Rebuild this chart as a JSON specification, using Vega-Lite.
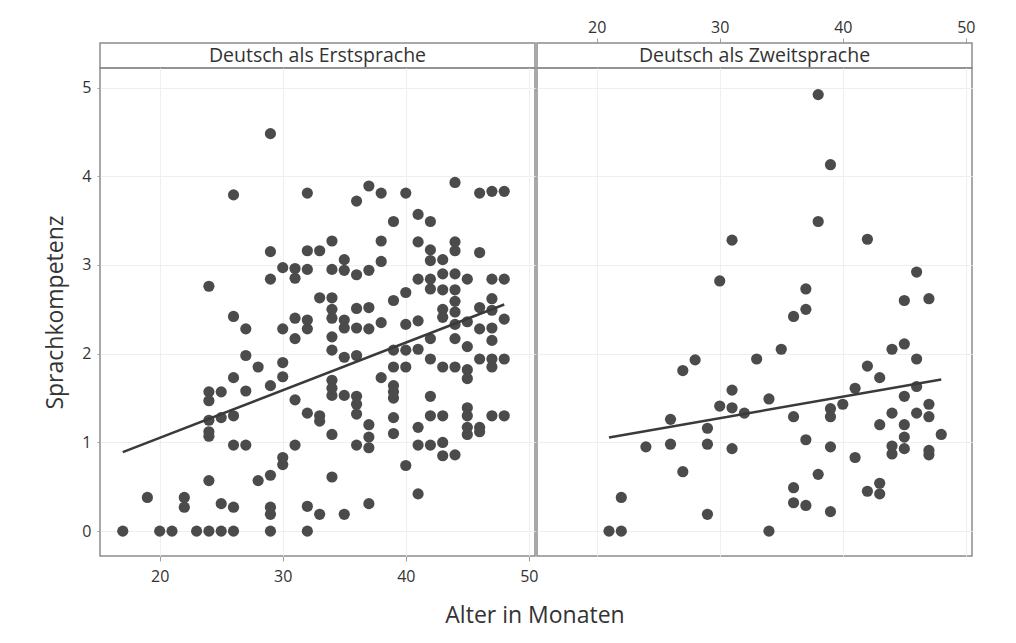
{
  "$schema": "https://vega.github.io/schema/vega-lite/v6.json",
  "padding": {"left": 44, "top": 18, "right": 40, "bottom": 16},
  "background": "white",
  "datasets": {
    "erst": [
      {"alter":17,"kompetenz":0},
      {"alter":19,"kompetenz":0.38},
      {"alter":20,"kompetenz":0},
      {"alter":21,"kompetenz":0},
      {"alter":22,"kompetenz":0.38},{"alter":22,"kompetenz":0.27},
      {"alter":23,"kompetenz":0},
      {"alter":24,"kompetenz":0},{"alter":24,"kompetenz":0.57},{"alter":24,"kompetenz":1.07},{"alter":24,"kompetenz":1.12},{"alter":24,"kompetenz":1.25},{"alter":24,"kompetenz":1.47},{"alter":24,"kompetenz":1.57},{"alter":24,"kompetenz":2.76},
      {"alter":25,"kompetenz":0},{"alter":25,"kompetenz":0.31},{"alter":25,"kompetenz":1.28},{"alter":25,"kompetenz":1.57},
      {"alter":26,"kompetenz":0},{"alter":26,"kompetenz":0.27},{"alter":26,"kompetenz":0.97},{"alter":26,"kompetenz":1.30},{"alter":26,"kompetenz":1.73},{"alter":26,"kompetenz":2.42},{"alter":26,"kompetenz":3.79},
      {"alter":27,"kompetenz":0.97},{"alter":27,"kompetenz":1.58},{"alter":27,"kompetenz":1.98},{"alter":27,"kompetenz":2.28},
      {"alter":28,"kompetenz":0.57},{"alter":28,"kompetenz":1.85},
      {"alter":29,"kompetenz":0},{"alter":29,"kompetenz":0.19},{"alter":29,"kompetenz":0.27},{"alter":29,"kompetenz":0.63},{"alter":29,"kompetenz":1.64},{"alter":29,"kompetenz":2.84},{"alter":29,"kompetenz":3.15},{"alter":29,"kompetenz":4.48},
      {"alter":30,"kompetenz":0.75},{"alter":30,"kompetenz":0.83},{"alter":30,"kompetenz":1.74},{"alter":30,"kompetenz":1.90},{"alter":30,"kompetenz":2.28},{"alter":30,"kompetenz":2.97},
      {"alter":31,"kompetenz":0.97},{"alter":31,"kompetenz":1.48},{"alter":31,"kompetenz":2.17},{"alter":31,"kompetenz":2.40},{"alter":31,"kompetenz":2.85},{"alter":31,"kompetenz":2.96},
      {"alter":32,"kompetenz":0},{"alter":32,"kompetenz":0.28},{"alter":32,"kompetenz":1.33},{"alter":32,"kompetenz":2.28},{"alter":32,"kompetenz":2.38},{"alter":32,"kompetenz":2.95},{"alter":32,"kompetenz":3.16},{"alter":32,"kompetenz":3.81},
      {"alter":33,"kompetenz":0.19},{"alter":33,"kompetenz":1.30},{"alter":33,"kompetenz":1.24},{"alter":33,"kompetenz":2.63},{"alter":33,"kompetenz":3.16},
      {"alter":34,"kompetenz":0.61},{"alter":34,"kompetenz":1.09},{"alter":34,"kompetenz":1.53},{"alter":34,"kompetenz":1.61},{"alter":34,"kompetenz":1.70},{"alter":34,"kompetenz":2.04},{"alter":34,"kompetenz":2.19},{"alter":34,"kompetenz":2.40},{"alter":34,"kompetenz":2.50},{"alter":34,"kompetenz":2.63},{"alter":34,"kompetenz":2.95},{"alter":34,"kompetenz":3.27},
      {"alter":35,"kompetenz":0.19},{"alter":35,"kompetenz":1.53},{"alter":35,"kompetenz":1.96},{"alter":35,"kompetenz":2.29},{"alter":35,"kompetenz":2.38},{"alter":35,"kompetenz":2.94},{"alter":35,"kompetenz":3.06},
      {"alter":36,"kompetenz":0.97},{"alter":36,"kompetenz":1.32},{"alter":36,"kompetenz":1.43},{"alter":36,"kompetenz":1.52},{"alter":36,"kompetenz":1.98},{"alter":36,"kompetenz":2.29},{"alter":36,"kompetenz":2.51},{"alter":36,"kompetenz":2.89},{"alter":36,"kompetenz":3.72},
      {"alter":37,"kompetenz":0.31},{"alter":37,"kompetenz":0.94},{"alter":37,"kompetenz":1.06},{"alter":37,"kompetenz":1.20},{"alter":37,"kompetenz":2.28},{"alter":37,"kompetenz":2.52},{"alter":37,"kompetenz":2.94},{"alter":37,"kompetenz":3.89},
      {"alter":38,"kompetenz":1.73},{"alter":38,"kompetenz":2.35},{"alter":38,"kompetenz":3.04},{"alter":38,"kompetenz":3.27},{"alter":38,"kompetenz":3.81},
      {"alter":39,"kompetenz":1.10},{"alter":39,"kompetenz":1.28},{"alter":39,"kompetenz":1.50},{"alter":39,"kompetenz":1.57},{"alter":39,"kompetenz":1.64},{"alter":39,"kompetenz":1.85},{"alter":39,"kompetenz":2.04},{"alter":39,"kompetenz":2.60},{"alter":39,"kompetenz":3.49},
      {"alter":40,"kompetenz":0.74},{"alter":40,"kompetenz":1.85},{"alter":40,"kompetenz":2.04},{"alter":40,"kompetenz":2.33},{"alter":40,"kompetenz":2.69},{"alter":40,"kompetenz":3.81},
      {"alter":41,"kompetenz":0.42},{"alter":41,"kompetenz":0.97},{"alter":41,"kompetenz":1.17},{"alter":41,"kompetenz":2.05},{"alter":41,"kompetenz":2.37},{"alter":41,"kompetenz":2.84},{"alter":41,"kompetenz":3.26},{"alter":41,"kompetenz":3.57},
      {"alter":42,"kompetenz":0.97},{"alter":42,"kompetenz":1.30},{"alter":42,"kompetenz":1.52},{"alter":42,"kompetenz":1.94},{"alter":42,"kompetenz":2.17},{"alter":42,"kompetenz":2.73},{"alter":42,"kompetenz":2.84},{"alter":42,"kompetenz":3.05},{"alter":42,"kompetenz":3.17},{"alter":42,"kompetenz":3.49},
      {"alter":43,"kompetenz":0.85},{"alter":43,"kompetenz":1.00},{"alter":43,"kompetenz":1.30},{"alter":43,"kompetenz":1.85},{"alter":43,"kompetenz":2.41},{"alter":43,"kompetenz":2.50},{"alter":43,"kompetenz":2.72},{"alter":43,"kompetenz":2.90},{"alter":43,"kompetenz":3.06},
      {"alter":44,"kompetenz":0.86},{"alter":44,"kompetenz":1.85},{"alter":44,"kompetenz":2.17},{"alter":44,"kompetenz":2.33},{"alter":44,"kompetenz":2.47},{"alter":44,"kompetenz":2.59},{"alter":44,"kompetenz":2.72},{"alter":44,"kompetenz":2.90},{"alter":44,"kompetenz":3.16},{"alter":44,"kompetenz":3.26},{"alter":44,"kompetenz":3.93},
      {"alter":45,"kompetenz":1.09},{"alter":45,"kompetenz":1.17},{"alter":45,"kompetenz":1.30},{"alter":45,"kompetenz":1.39},{"alter":45,"kompetenz":1.72},{"alter":45,"kompetenz":1.82},{"alter":45,"kompetenz":2.08},{"alter":45,"kompetenz":2.36},{"alter":45,"kompetenz":2.84},
      {"alter":46,"kompetenz":1.12},{"alter":46,"kompetenz":1.17},{"alter":46,"kompetenz":1.94},{"alter":46,"kompetenz":2.28},{"alter":46,"kompetenz":2.52},{"alter":46,"kompetenz":3.14},{"alter":46,"kompetenz":3.81},
      {"alter":47,"kompetenz":1.30},{"alter":47,"kompetenz":1.85},{"alter":47,"kompetenz":1.94},{"alter":47,"kompetenz":2.15},{"alter":47,"kompetenz":2.29},{"alter":47,"kompetenz":2.49},{"alter":47,"kompetenz":2.62},{"alter":47,"kompetenz":2.84},{"alter":47,"kompetenz":3.83},
      {"alter":48,"kompetenz":1.30},{"alter":48,"kompetenz":1.94},{"alter":48,"kompetenz":2.39},{"alter":48,"kompetenz":2.84},{"alter":48,"kompetenz":3.83}
    ],
    "zweit": [
      {"alter":21,"kompetenz":0},
      {"alter":22,"kompetenz":0},{"alter":22,"kompetenz":0.38},
      {"alter":24,"kompetenz":0.95},
      {"alter":26,"kompetenz":1.26},{"alter":26,"kompetenz":0.98},
      {"alter":27,"kompetenz":1.81},{"alter":27,"kompetenz":0.67},
      {"alter":28,"kompetenz":1.93},
      {"alter":29,"kompetenz":1.16},{"alter":29,"kompetenz":0.98},{"alter":29,"kompetenz":0.19},
      {"alter":30,"kompetenz":2.82},{"alter":30,"kompetenz":1.41},
      {"alter":31,"kompetenz":3.28},{"alter":31,"kompetenz":1.59},{"alter":31,"kompetenz":1.39},{"alter":31,"kompetenz":0.93},
      {"alter":32,"kompetenz":1.33},
      {"alter":33,"kompetenz":1.94},
      {"alter":34,"kompetenz":1.49},{"alter":34,"kompetenz":0},
      {"alter":35,"kompetenz":2.05},
      {"alter":36,"kompetenz":2.42},{"alter":36,"kompetenz":1.29},{"alter":36,"kompetenz":0.49},{"alter":36,"kompetenz":0.32},
      {"alter":37,"kompetenz":2.73},{"alter":37,"kompetenz":2.50},{"alter":37,"kompetenz":1.03},{"alter":37,"kompetenz":0.29},
      {"alter":38,"kompetenz":4.92},{"alter":38,"kompetenz":3.49},{"alter":38,"kompetenz":0.64},
      {"alter":39,"kompetenz":4.13},{"alter":39,"kompetenz":1.38},{"alter":39,"kompetenz":1.29},{"alter":39,"kompetenz":0.95},{"alter":39,"kompetenz":0.22},
      {"alter":40,"kompetenz":1.43},
      {"alter":41,"kompetenz":1.61},{"alter":41,"kompetenz":0.83},
      {"alter":42,"kompetenz":3.29},{"alter":42,"kompetenz":1.86},{"alter":42,"kompetenz":0.45},
      {"alter":43,"kompetenz":1.73},{"alter":43,"kompetenz":1.20},{"alter":43,"kompetenz":0.54},{"alter":43,"kompetenz":0.42},
      {"alter":44,"kompetenz":2.05},{"alter":44,"kompetenz":1.33},{"alter":44,"kompetenz":0.96},{"alter":44,"kompetenz":0.87},
      {"alter":45,"kompetenz":2.60},{"alter":45,"kompetenz":2.11},{"alter":45,"kompetenz":1.52},{"alter":45,"kompetenz":1.20},{"alter":45,"kompetenz":1.06},{"alter":45,"kompetenz":0.93},
      {"alter":46,"kompetenz":2.92},{"alter":46,"kompetenz":1.94},{"alter":46,"kompetenz":1.63},{"alter":46,"kompetenz":1.33},
      {"alter":47,"kompetenz":2.62},{"alter":47,"kompetenz":1.43},{"alter":47,"kompetenz":1.29},{"alter":47,"kompetenz":0.91},{"alter":47,"kompetenz":0.86},
      {"alter":48,"kompetenz":1.09}
    ],
    "kopfL": [{"gruppe": "Deutsch als Erstsprache"}],
    "kopfR": [{"gruppe": "Deutsch als Zweitsprache"}]
  },
  "title": {
    "text": "Alter in Monaten",
    "orient": "bottom",
    "anchor": "middle",
    "frame": "group",
    "dx": 435,
    "fontSize": 23,
    "fontWeight": "normal",
    "color": "#333333",
    "offset": 20
  },
  "columns": 2,
  "spacing": {"row": 0, "column": 2},
  "bounds": "flush",
  "concat": [
    {
      "width": 435,
      "height": 25,
      "data": {"name": "kopfL"},
      "layer": [
        {"mark": {"type": "rect", "fill": "white", "stroke": "#8c8c8c", "strokeWidth": 1.5}, "encoding": {}},
        {"mark": {"type": "text", "fontSize": 19.5, "color": "#333333", "baseline": "middle"}, "encoding": {"text": {"field": "gruppe"}}}
      ]
    },
    {
      "width": 435,
      "height": 25,
      "data": {"name": "kopfR"},
      "layer": [
        {"mark": {"type": "rect", "fill": "white", "stroke": "#8c8c8c", "strokeWidth": 1.5}, "encoding": {}},
        {"mark": {"type": "text", "fontSize": 19.5, "color": "#333333", "baseline": "middle"}, "encoding": {"text": {"field": "gruppe"}}}
      ]
    },
    {
      "width": 435,
      "height": 488,
      "data": {"name": "erst"},
      "encoding": {
        "x": {
          "field": "alter", "type": "quantitative",
          "scale": {"domain": [15.15, 50.5], "nice": false, "zero": false},
          "axis": {"orient": "bottom", "values": [20, 30, 40, 50], "title": null, "tickSize": 5, "labelPadding": 7, "labelFontSize": 16, "labelFlush": false}
        },
        "y": {
          "field": "kompetenz", "type": "quantitative",
          "scale": {"domain": [-0.28, 5.22], "nice": false, "zero": false},
          "axis": {"values": [0, 1, 2, 3, 4, 5], "title": "Sprachkompetenz", "titleFontSize": 23, "titlePadding": 14, "tickSize": 3, "labelPadding": 6, "labelFontSize": 16}
        }
      },
      "layer": [
        {"mark": {"type": "circle", "size": 125, "color": "#4b4b4b", "opacity": 1}},
        {
          "transform": [{"regression": "kompetenz", "on": "alter"}],
          "mark": {"type": "line", "color": "#3a3a3a", "strokeWidth": 2.5}
        }
      ]
    },
    {
      "width": 435,
      "height": 488,
      "data": {"name": "zweit"},
      "encoding": {
        "x": {
          "field": "alter", "type": "quantitative",
          "scale": {"domain": [15.15, 50.5], "nice": false, "zero": false},
          "axis": {"orient": "top", "offset": 25, "values": [20, 30, 40, 50], "title": null, "tickSize": 5, "labelPadding": 3, "labelFontSize": 16, "labelFlush": false}
        },
        "y": {
          "field": "kompetenz", "type": "quantitative",
          "scale": {"domain": [-0.28, 5.22], "nice": false, "zero": false},
          "axis": {"values": [0, 1, 2, 3, 4, 5], "title": null, "labels": false, "ticks": false, "domain": false}
        }
      },
      "layer": [
        {"mark": {"type": "circle", "size": 125, "color": "#4b4b4b", "opacity": 1}},
        {
          "transform": [{"regression": "kompetenz", "on": "alter"}],
          "mark": {"type": "line", "color": "#3a3a3a", "strokeWidth": 2.5}
        }
      ]
    }
  ],
  "config": {
    "font": "Open Sans",
    "view": {"stroke": "#8c8c8c", "strokeWidth": 1.5},
    "axis": {
      "domain": false,
      "grid": true,
      "gridColor": "#efefef",
      "gridWidth": 1,
      "tickColor": "#a0a0a0",
      "labelColor": "#333333",
      "titleColor": "#333333",
      "titleFontWeight": "normal"
    }
  }
}
